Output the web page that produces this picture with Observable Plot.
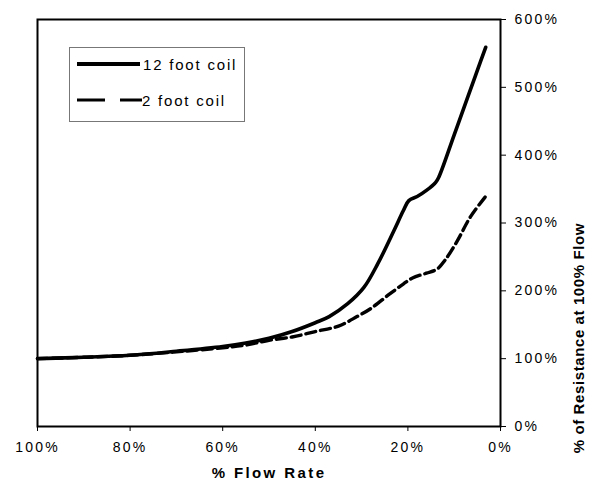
<!DOCTYPE html>
<html>
<head>
<meta charset="utf-8">
<script src="https://cdn.jsdelivr.net/npm/d3@7"></script>
<script src="https://cdn.jsdelivr.net/npm/@observablehq/plot@0.6"></script>
<style>
  body { margin: 0; background: #fff; }
  #wrap { position: relative; width: 590px; height: 481px; font-family: "Liberation Sans", Arial, sans-serif; }
  #legend { position: absolute; left: 69px; top: 47px; }
</style>
</head>
<body>
<div id="wrap"></div>
<script>
// Data
const flow12 = [100, 90, 80, 70, 60, 55, 50, 45, 40, 37, 33, 29.5, 26.5, 23, 21, 19.8, 18, 16, 14, 13.3, 10, 7, 5, 3.2];
const res12  = [100, 102, 105, 111, 118, 123, 130, 140, 153, 162, 181, 205, 240, 289, 318, 333, 339, 348, 360, 368, 430, 487, 525, 559];
const flow2  = [100, 90, 80, 70, 60, 55, 50, 45, 40, 35, 31, 28, 24, 21, 19, 16, 13.7, 12, 9.3, 6.5, 3];
const res2   = [100, 102, 105, 110, 116, 120, 127, 132, 140, 148, 162, 174, 195, 210, 219, 226, 232, 245, 274, 309, 341];
const xTicks = [100, 80, 60, 40, 20, 0];
const yTicks = [0, 100, 200, 300, 400, 500, 600];
const seriesNames = ["12 foot coil", "2 foot coil"];
const xTitle = "% Flow Rate";
const yTitle = "% of Resistance at 100% Flow";

const d12 = flow12.map((f, i) => ({flow: f, res: res12[i]}));
const d2 = flow2.map((f, i) => ({flow: f, res: res2[i]}));

const chart = Plot.plot({
  width: 590,
  height: 481,
  marginLeft: 37,
  marginRight: 90,
  marginTop: 19,
  marginBottom: 55,
  style: {fontFamily: '"Liberation Sans", Arial, sans-serif', fontSize: "14px", color: "#000", background: "#fff"},
  x: {domain: [100, 0], ticks: xTicks},
  y: {domain: [0, 600], ticks: yTicks},
  marks: [
    Plot.frame({stroke: "#000", strokeWidth: 2}),
    Plot.axisX({ticks: xTicks, tickFormat: d => d + "%", tickSize: 5, tickPadding: 11, label: null, fontSize: 14}),
    Plot.axisY({anchor: "right", ticks: yTicks, tickFormat: d => d + "%", tickSize: 5, tickPadding: 9,
      textAnchor: "start", label: null, fontSize: 14}),
    Plot.line(d12, {x: "flow", y: "res", stroke: "#000", strokeWidth: 3.6, curve: "catmull-rom"}),
    Plot.line(d2, {x: "flow", y: "res", stroke: "#000", strokeWidth: 3.4, strokeDasharray: "10,5", curve: "catmull-rom"}),
    Plot.text([xTitle], {frameAnchor: "bottom", dy: 51, text: d => d, fontWeight: "bold", fontSize: 15, className: "xtitle"}),
    Plot.text([yTitle], {frameAnchor: "right", dx: 79, rotate: -90, text: d => d, fontWeight: "bold", fontSize: 15, className: "ytitle"})
  ]
});
d3.select(chart).selectAll("g[aria-label='x-axis tick label'] text, g[aria-label='y-axis tick label'] text").style("letter-spacing", "2.2px");
d3.select(chart).selectAll(".xtitle text").style("letter-spacing", "2.4px");
d3.select(chart).selectAll(".ytitle text").style("letter-spacing", "0.6px");
document.getElementById("wrap").appendChild(chart);

// Legend
const lg = d3.select("#wrap").append("svg").attr("id", "legend").attr("width", 176).attr("height", 75);
lg.append("rect").attr("x", 0.5).attr("y", 0.5).attr("width", 175).attr("height", 74)
  .attr("fill", "#fff").attr("stroke", "#777").attr("stroke-width", 1);
lg.append("line").attr("x1", 8).attr("x2", 71).attr("y1", 17).attr("y2", 17).attr("stroke", "#000").attr("stroke-width", 4);
lg.append("line").attr("x1", 8).attr("x2", 73).attr("y1", 53).attr("y2", 53).attr("stroke", "#000").attr("stroke-width", 3)
  .attr("stroke-dasharray", "28,15");
lg.selectAll("text").data(seriesNames).join("text")
  .attr("x", (d, i) => i === 0 ? 74 : 73).attr("y", (d, i) => i === 0 ? 22.5 : 58.5)
  .attr("font-family", '"Liberation Sans", Arial, sans-serif').attr("font-size", 15)
  .style("letter-spacing", "1.8px").text(d => d);
</script>
</body>
</html>
